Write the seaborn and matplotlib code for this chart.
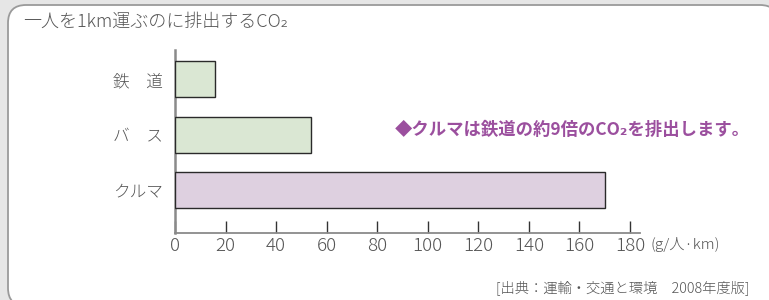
import matplotlib
matplotlib.use("Agg")
import matplotlib.pyplot as plt
import matplotlib.patches as mpatches
from matplotlib.transforms import IdentityTransform
import seaborn as sns
import pandas as pd

categories = ["鉄　道", "バ　ス", "クルマ"]
values = [16, 54, 170]
bar_colors = ["#d9ead0", "#d9ead0", "#e0cde3"]
xticks = [0, 20, 40, 60, 80, 100, 120, 140, 160, 180]

title = "一人を1km運ぶのに排出するCO₂"
note = "◆クルマは鉄道の約9倍のCO₂を排出します。"
unit = "(g/人·km)"
source = "[出典：運輸・交通と環境　2008年度版]"

sns.set_theme(style="white")
plt.rcParams["font.family"] = ["Noto Sans CJK JP", "DejaVu Sans"]

W, H = 769, 300
fig = plt.figure(figsize=(W / 100, H / 100), dpi=100)
fig.patch.set_facecolor("#e6e6e6")

panel = mpatches.FancyBboxPatch((8, -6), 770, 301,
                                boxstyle="round,pad=0,rounding_size=18",
                                transform=IdentityTransform(),
                                facecolor="white", edgecolor="#9a9a9a",
                                linewidth=1.3, zorder=-5)
fig.add_artist(panel)

ax_left, ax_right = 175, 640
ax_top, ax_bottom = 50, 233
ax = fig.add_axes([ax_left / W, 1 - ax_bottom / H,
                   (ax_right - ax_left) / W, (ax_bottom - ax_top) / H])
ax.set_facecolor("none")

df = pd.DataFrame({"cat": categories, "val": values})
sns.barplot(data=df, x="val", y="cat", hue="cat", palette=bar_colors,
            orient="h", width=0.65, edgecolor="#2a2a2a", linewidth=1.0,
            legend=False, ax=ax, zorder=3)

ax.set_xlim(0, 184)
ax.set_ylim(2.77, -0.53)
ax.set_xticks(xticks)
ax.set_xlabel("")
ax.set_ylabel("")

for s in ["top", "right"]:
    ax.spines[s].set_visible(False)
ax.spines["left"].set_color("#8a8a8a")
ax.spines["left"].set_linewidth(1.8)
ax.spines["bottom"].set_color("#8a8a8a")
ax.spines["bottom"].set_linewidth(1.3)

ax.tick_params(axis="x", direction="in", length=9, width=1.0, color="#333333",
               labelsize=13.5, labelcolor="#555555", pad=3, bottom=True)
ax.tick_params(axis="y", length=0, labelsize=12, labelcolor="#555555", pad=9)
for lab in ax.get_xticklabels() + ax.get_yticklabels():
    lab.set_fontweight("light")

fig.text(23 / W, 1 - 22 / H, title, fontsize=13, color="#555555",
         ha="left", va="center", fontweight="light")
fig.text(395 / W, 1 - 130 / H, note, fontsize=12.5, color="#9b4f9e",
         fontweight="bold", ha="left", va="center")
fig.text(651 / W, 1 - 245 / H, unit, fontsize=11, color="#555555",
         ha="left", va="center", fontweight="light")
fig.text(749 / W, 1 - 288 / H, source, fontsize=10.3, color="#555555",
         ha="right", va="center", fontweight="light")

fig.savefig("out.png", dpi=100, facecolor=fig.get_facecolor())
